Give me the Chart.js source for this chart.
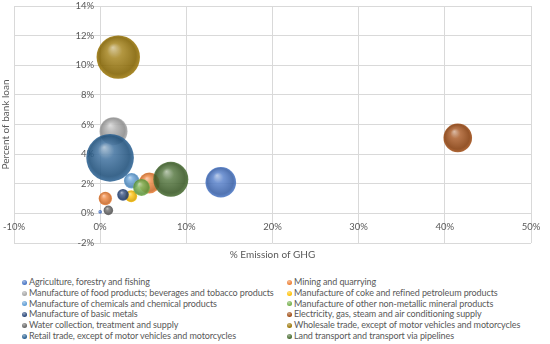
<!DOCTYPE html>
<html>
<head>
<meta charset="utf-8">
<script src="https://cdn.jsdelivr.net/npm/chart.js@4.4.1/dist/chart.umd.min.js"></script>
<style>
  body { margin: 0; background: #fff; }
  #wrap { position: relative; width: 550px; height: 344px; font-family: Lato, sans-serif; }
  #box { position: absolute; left: 0; top: 0; width: 550px; height: 270px; }
  #legend { position: absolute; left: 22px; top: 277px; display: grid; grid-template-columns: 265px 263px;
            font-size: 9px; letter-spacing: -0.1px; line-height: 10.8px; color: #595959; }
  #legend .item { white-space: nowrap; display: flex; align-items: center; }
  #legend .dot { width: 5px; height: 5px; border-radius: 50%; margin-right: 2px; flex: none; }
</style>
</head>
<body>
<div id="wrap">
  <div id="box"><canvas id="bubble"></canvas></div>
  <div id="legend"></div>
</div>
<script>
// sectors, in the legend's order
const sectors = [
  'Agriculture, forestry and fishing',
  'Mining and quarrying',
  'Manufacture of food products; beverages and tobacco products',
  'Manufacture of coke and refined petroleum products',
  'Manufacture of chemicals and chemical products',
  'Manufacture of other non-metallic mineral products',
  'Manufacture of basic metals',
  'Electricity, gas, steam and air conditioning supply',
  'Water collection, treatment and supply',
  'Wholesale trade, except of motor vehicles and motorcycles',
  'Retail trade, except of motor vehicles and motorcycles',
  'Land transport and transport via pipelines'
];
// % emission of GHG (x)
const emission = [[14.0, 0.0], [5.7, 0.6], [1.55], [3.6], [3.65], [4.8], [2.65], [41.5], [0.95], [2.1], [1.15], [8.2]];
// % of bank loan (y)
const loan = [[2.1, 0.1], [2.05, 1.0], [5.55], [1.15], [2.2], [1.75], [1.25], [5.1], [0.2], [10.55], [3.75], [2.3]];
// bubble size
const bubbleSize = [[15.3, 1.8], [10.5, 6.7], [14], [6], [7.7], [8.5], [5.8], [14.3], [4.8], [21.7], [23.8], [17.5]];

const colors = ['#4472C4', '#ED7D31', '#A5A5A5', '#FFC000', '#5B9BD5', '#70AD47',
                '#264478', '#9E480E', '#636363', '#997300', '#255E91', '#43682B'];
const xAxis = {min: -10, max: 50, step: 10};
const yAxis = {min: -2, max: 14, step: 2};

const textColor = '#595959';
const gridColor = '#d9d9d9';
const tickFont = {family: 'Lato', size: 9.5};

/** 색 밝기 조절 **/
function shade(hex, f, a) {
  let n = parseInt(hex.slice(1), 16);
  let rgb = [n >> 16, (n >> 8) & 255, n & 255];
  let t = f < 0 ? 0 : 255, p = Math.abs(f);
  rgb = rgb.map(c => Math.round(c + (t - c) * p));
  return 'rgba(' + rgb.join(',') + ',' + a + ')';
}

/** 3D 구 모양 그라디언트 **/
function sphere(ctx) {
  let chart = ctx.chart, raw = ctx.raw;
  let c = colors[ctx.datasetIndex];
  if (!raw || !chart.chartArea) return c;
  let x = chart.scales.x.getPixelForValue(raw.x);
  let y = chart.scales.y.getPixelForValue(raw.y);
  let r = raw.r;
  let g = chart.ctx.createRadialGradient(x - r * 0.25, y - r * 0.45, 0, x, y, r);
  g.addColorStop(0, shade(c, 0.6, 0.9));
  g.addColorStop(0.35, shade(c, 0.15, 0.88));
  g.addColorStop(0.85, shade(c, -0.15, 0.88));
  g.addColorStop(1, shade(c, 0.05, 0.88));
  return g;
}

/** 축 위치 고정용 **/
function noPadding(s) {
  s.paddingTop = 0; s.paddingBottom = 0; s.paddingLeft = 0; s.paddingRight = 0;
}

let datasets = sectors.map((name, i) => ({
  label: name,
  data: emission[i].map((v, j) => ({x: v, y: loan[i][j], r: bubbleSize[i][j]})),
  backgroundColor: sphere,
  borderWidth: 0,
  order: sectors.length - i
}));

let bubbleChart = new Chart(document.getElementById('bubble'), {
  type: 'bubble',
  data: {datasets: datasets},
  options: {
    responsive: true,
    maintainAspectRatio: false,
    animation: false,
    events: [],
    layout: {autoPadding: false, padding: {top: 6, right: 19, bottom: 0, left: 0}},
    plugins: {legend: {display: false}, tooltip: {enabled: false}},
    scales: {
      x: {
        type: 'linear', min: xAxis.min, max: xAxis.max,
        ticks: {display: false, stepSize: xAxis.step},
        grid: {color: gridColor, drawTicks: false},
        border: {display: false},
        title: {display: true, text: '% Emission of GHG', color: textColor, font: {family: 'Lato', size: 10}, padding: {top: 0, bottom: 9}},
        afterFit: s => { s.height = 27; noPadding(s); }
      },
      y: {
        type: 'linear', min: yAxis.min, max: yAxis.max,
        ticks: {display: false, stepSize: yAxis.step},
        grid: {color: gridColor, drawTicks: false},
        border: {display: false},
        title: {display: true, text: 'Percent of bank loan', color: textColor, font: {family: 'Lato', size: 10}, padding: 0},
        afterFit: s => { s.width = 14; noPadding(s); }
      },
      x2: {
        type: 'linear', axis: 'x', position: {y: 0}, min: xAxis.min, max: xAxis.max,
        ticks: {stepSize: xAxis.step, callback: v => v + '%', color: textColor, font: tickFont, padding: 8, autoSkip: false, maxRotation: 0},
        grid: {display: false, drawTicks: false},
        border: {display: false},
        afterFit: noPadding
      },
      y2: {
        type: 'linear', axis: 'y', position: {x: -0.7}, min: yAxis.min, max: yAxis.max,
        ticks: {stepSize: yAxis.step, callback: v => v + '%', color: textColor, font: tickFont, padding: 8, autoSkip: false},
        grid: {display: false, drawTicks: false},
        border: {display: false},
        afterFit: noPadding
      }
    }
  }
});

/** 범례 **/
let legendBox = document.getElementById('legend');
sectors.forEach((name, i) => {
  let item = document.createElement('div');
  item.className = 'item';
  let dot = document.createElement('span');
  dot.className = 'dot';
  dot.style.background = 'radial-gradient(circle at 40% 30%, ' + shade(colors[i], 0.5, 1) + ', ' + colors[i] + ' 70%)';
  item.appendChild(dot);
  item.appendChild(document.createTextNode(name));
  legendBox.appendChild(item);
});
</script>
</body>
</html>
